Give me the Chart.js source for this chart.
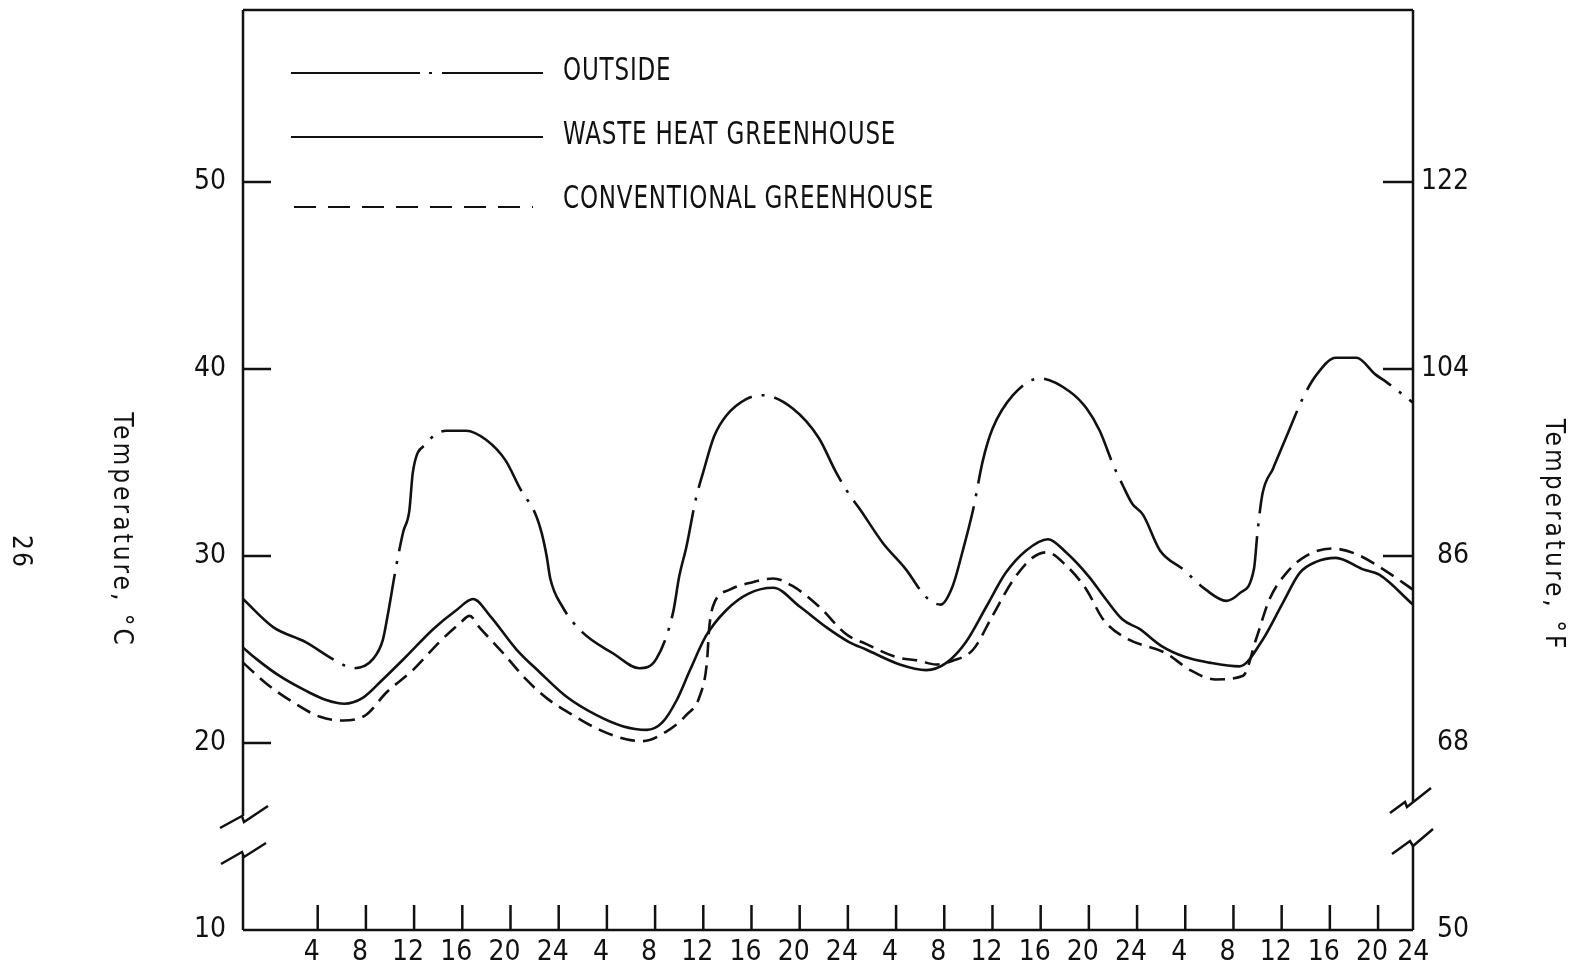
<!DOCTYPE html>
<html>
<head>
<meta charset="utf-8">
<script src="https://cdn.jsdelivr.net/npm/chart.js@4.4.1/dist/chart.umd.min.js"></script>
<style>
  html, body { margin: 0; padding: 0; background: #fff; }
  #wrap { width: 1576px; height: 971px; }
</style>
</head>
<body>
<div id="wrap"><canvas id="tempChart" width="1576" height="971"></canvas></div>
<script>
// hours from start of the 4-day run, temperatures in deg C
const outsideHours = [-2.2, 0.3, 3.0, 5.5, 7.0, 8.6, 9.4, 9.8, 10.5, 11.1, 11.6, 11.9, 13.0, 14.7, 16.3, 18.0, 19.6, 20.8, 22.1, 22.6, 23.0, 23.3, 24.3, 26.0, 28.5, 30.7, 32.1, 33.5, 34.0, 34.6, 35.4, 36.0, 36.9, 37.9, 39.6, 40.9, 43.4, 45.6, 47.0, 48.1, 49.0, 50.9, 52.8, 54.5, 55.7, 56.7, 57.5, 58.4, 59.2, 60.0, 61.7, 63.9, 66.4, 67.8, 68.9, 70.0, 70.8, 71.6, 72.5, 73.9, 75.8, 77.7, 79.4, 80.5, 81.7, 82.0, 82.4, 83.3, 84.6, 85.8, 86.9, 88.5, 90.2, 91.8, 92.7, 94.9];
const outsideTemp = [27.7, 26.2, 25.4, 24.4, 24.0, 24.5, 25.5, 26.8, 29.4, 31.3, 32.4, 34.5, 36.0, 36.7, 36.7, 36.2, 35.1, 33.6, 32.2, 31.2, 30.0, 28.8, 27.3, 25.9, 24.8, 24.0, 24.5, 27.0, 28.9, 30.5, 33.1, 34.5, 36.4, 37.5, 38.4, 38.6, 37.9, 36.3, 34.5, 33.3, 32.5, 30.7, 29.3, 27.8, 27.4, 28.4, 30.2, 32.5, 35.1, 36.8, 38.6, 39.5, 38.8, 37.9, 36.7, 34.9, 33.8, 32.8, 32.2, 30.3, 29.3, 28.2, 27.6, 28.0, 29.3, 31.3, 33.3, 34.7, 36.7, 38.5, 39.7, 40.6, 40.6, 39.7, 39.3, 38.2];

const wasteHours = [-2.2, -1.1, 0.8, 3.0, 4.7, 6.2, 7.7, 9.4, 11.3, 13.6, 15.5, 16.9, 18.3, 20.5, 22.4, 24.6, 27.1, 29.3, 31.3, 32.6, 33.8, 34.9, 36.2, 37.9, 39.8, 41.8, 44.0, 46.2, 48.1, 49.5, 52.3, 54.5, 56.2, 57.8, 59.5, 61.1, 62.8, 64.6, 66.1, 68.0, 69.4, 70.8, 72.2, 74.0, 76.0, 78.0, 80.5, 82.4, 84.1, 85.5, 86.9, 88.5, 90.7, 92.1, 94.9];
const wasteTemp = [25.1, 24.5, 23.6, 22.8, 22.3, 22.1, 22.4, 23.4, 24.6, 26.1, 27.1, 27.7, 26.8, 25.0, 23.8, 22.5, 21.5, 20.9, 20.7, 21.1, 22.3, 23.9, 25.7, 27.1, 28.0, 28.3, 27.3, 26.2, 25.4, 25.0, 24.2, 23.9, 24.3, 25.4, 27.3, 29.1, 30.3, 30.9, 30.2, 28.9, 27.7, 26.6, 26.1, 25.2, 24.6, 24.3, 24.1, 25.5, 27.5, 29.1, 29.7, 29.9, 29.3, 29.0, 27.4];

const convHours = [-2.2, -0.3, 1.9, 4.2, 6.1, 8.0, 9.7, 11.9, 14.1, 15.8, 16.6, 17.4, 19.4, 21.3, 23.0, 24.9, 27.4, 29.6, 31.0, 32.9, 34.6, 35.7, 36.3, 36.5, 36.8, 38.2, 40.1, 41.8, 43.4, 45.6, 47.9, 49.5, 52.0, 53.9, 55.3, 56.7, 58.4, 60.0, 61.7, 63.3, 64.5, 66.1, 67.8, 69.2, 71.1, 74.4, 76.4, 78.5, 80.8, 81.9, 83.0, 84.4, 86.0, 88.2, 90.2, 92.4, 94.9];
const convTemp = [24.3, 23.2, 22.2, 21.4, 21.2, 21.5, 22.7, 23.9, 25.4, 26.4, 26.8, 26.2, 24.8, 23.4, 22.4, 21.6, 20.7, 20.2, 20.1, 20.6, 21.5, 22.5, 24.3, 26.2, 27.3, 28.2, 28.6, 28.8, 28.4, 27.3, 25.8, 25.3, 24.6, 24.4, 24.2, 24.4, 25.0, 26.8, 28.7, 29.9, 30.2, 29.5, 28.2, 26.6, 25.6, 24.8, 23.9, 23.4, 23.6, 25.6, 27.7, 29.1, 30.0, 30.4, 30.1, 29.3, 28.2];

const hourTicks = [4, 8, 12, 16, 20, 24, 28, 32, 36, 40, 44, 48, 52, 56, 60, 64, 68, 72, 76, 80, 84, 88, 92];
const celsiusTicks = [10, 20, 30, 40, 50];
const fahrenheitTicks = [50, 68, 86, 104, 122];
const seriesNames = ["OUTSIDE", "WASTE HEAT GREENHOUSE", "CONVENTIONAL GREENHOUSE"];

const X_MIN = -2.2, X_MAX = 94.9;
const C_MIN = 10, C_MAX = 59.2;
const toF = (c) => c * 1.8 + 32;

const INK = "#111";
const FONT = '"Liberation Sans Narrow", "DejaVu Sans Condensed", "Liberation Sans", sans-serif';

function pts(xs, ys) {
  return xs.map((x, i) => ({ x: x, y: ys[i] }));
}

// drop the half-label padding chart.js adds so the frame hugs the canvas top
function noEdgePad(s) {
  s.paddingTop = 0;
  s.paddingBottom = 0;
  s.paddingLeft = 0;
  s.paddingRight = 0;
}

// frame, inside ticks, axis breaks, legend and rotated titles
const decorations = {
  id: "decorations",
  afterDraw(chart) {
    const ctx = chart.ctx;
    const a = chart.chartArea;
    const xs = chart.scales.x, yl = chart.scales.y, yr = chart.scales.y2;
    ctx.save();
    ctx.strokeStyle = INK;
    ctx.fillStyle = INK;
    ctx.lineWidth = 2.5;
    ctx.lineCap = "butt";

    // frame with gaps for the breaks
    ctx.beginPath();
    ctx.moveTo(a.left, a.top); ctx.lineTo(a.right, a.top);
    ctx.moveTo(a.left, a.bottom); ctx.lineTo(a.right, a.bottom);
    ctx.moveTo(a.left, a.top); ctx.lineTo(a.left, a.bottom - 114);
    ctx.moveTo(a.left, a.bottom - 75); ctx.lineTo(a.left, a.bottom);
    ctx.moveTo(a.right, a.top); ctx.lineTo(a.right, a.bottom - 128);
    ctx.moveTo(a.right, a.bottom - 84); ctx.lineTo(a.right, a.bottom);
    ctx.stroke();

    // break marks
    const zig = (x0, y0, pts) => {
      ctx.beginPath();
      pts.forEach((p, i) => {
        if (i === 0) ctx.moveTo(x0 + p[0], y0 + p[1]);
        else ctx.lineTo(x0 + p[0], y0 + p[1]);
      });
      ctx.stroke();
    };
    zig(a.left, a.bottom, [[-23, -102], [-1, -114], [1, -108], [25, -124]]);
    zig(a.left, a.bottom, [[-22, -66], [-1, -78], [1, -73], [23, -87]]);
    zig(a.right, a.bottom, [[-23, -117], [-8, -128], [-6, -123], [18, -142]]);
    zig(a.right, a.bottom, [[-21, -76], [-3, -89], [0, -84], [20, -101]]);

    // tick marks drawn inwards
    ctx.beginPath();
    celsiusTicks.slice(1).forEach((v) => {
      const y = yl.getPixelForValue(v);
      ctx.moveTo(a.left, y); ctx.lineTo(a.left + 28, y);
    });
    [86, 104, 122].forEach((v) => {
      const y = yr.getPixelForValue(v);
      ctx.moveTo(a.right - 30, y); ctx.lineTo(a.right, y);
    });
    hourTicks.forEach((v) => {
      const x = xs.getPixelForValue(v);
      ctx.moveTo(x, a.bottom); ctx.lineTo(x, a.bottom - 25);
    });
    ctx.stroke();

    // legend
    const lx0 = a.left + 48, lx1 = a.left + 300;
    ctx.lineWidth = 2.2;
    ctx.beginPath();
    ctx.moveTo(lx0, 73); ctx.lineTo(a.left + 177, 73);
    ctx.moveTo(a.left + 186, 73); ctx.lineTo(a.left + 189, 73);
    ctx.moveTo(a.left + 199, 73); ctx.lineTo(lx1, 73);
    ctx.moveTo(lx0, 137); ctx.lineTo(lx1, 137);
    ctx.stroke();
    ctx.setLineDash([22, 12]);
    ctx.beginPath();
    ctx.moveTo(a.left + 51, 207); ctx.lineTo(a.left + 290, 207);
    ctx.stroke();
    ctx.setLineDash([]);

    const narrowText = (txt, x, y) => {
      ctx.save();
      ctx.translate(x, y);
      ctx.scale(0.8, 1);
      ctx.font = "32px " + FONT;
      ctx.letterSpacing = "1px";
      ctx.textAlign = "left";
      ctx.textBaseline = "middle";
      ctx.fillText(txt, 0, 0);
      ctx.restore();
    };
    narrowText(seriesNames[0], a.left + 320, 72);
    narrowText(seriesNames[1], a.left + 320, 136);
    narrowText(seriesNames[2], a.left + 320, 200);

    // rotated titles (read top to bottom)
    const vText = (txt, x, y, size, spacing) => {
      ctx.save();
      ctx.translate(x, y);
      ctx.rotate(Math.PI / 2);
      ctx.font = size + "px " + FONT;
      ctx.letterSpacing = spacing;
      ctx.textAlign = "center";
      ctx.textBaseline = "middle";
      ctx.fillText(txt, 0, 0);
      ctx.restore();
    };
    vText("Temperature, \u00B0C", 121, 530, 26, "3px");
    vText("Temperature, \u00B0F", 1553, 535, 26, "3px");
    vText("26", 20, 552, 26, "2px");
    ctx.restore();
  }
};

new Chart(document.getElementById("tempChart").getContext("2d"), {
  type: "line",
  data: {
    datasets: [
      {
        label: seriesNames[0],
        data: pts(outsideHours, outsideTemp),
        borderColor: INK,
        borderWidth: 2.6,
        borderDash: [110, 10, 3, 10],
        pointRadius: 0,
        cubicInterpolationMode: "monotone",
        yAxisID: "y",
      },
      {
        label: seriesNames[1],
        data: pts(wasteHours, wasteTemp),
        borderColor: INK,
        borderWidth: 2.6,
        pointRadius: 0,
        cubicInterpolationMode: "monotone",
        yAxisID: "y",
      },
      {
        label: seriesNames[2],
        data: pts(convHours, convTemp),
        borderColor: INK,
        borderWidth: 2.6,
        borderDash: [15, 8],
        pointRadius: 0,
        cubicInterpolationMode: "monotone",
        yAxisID: "y",
      },
    ],
  },
  options: {
    responsive: false,
    animation: false,
    devicePixelRatio: 1,
    layout: { padding: { top: 10, right: 107, left: 0, bottom: 0 } },
    plugins: { legend: { display: false }, tooltip: { enabled: false } },
    scales: {
      x: {
        type: "linear",
        min: X_MIN,
        max: X_MAX,
        afterBuildTicks: (s) => {
          s.ticks = hourTicks.map((v) => ({ value: v })).concat([{ value: X_MAX }]);
        },
        afterFit: (s) => { s.height = 41; noEdgePad(s); },
        grid: { display: false, drawTicks: false },
        border: { display: false },
        ticks: {
          autoSkip: false,
          maxRotation: 0,
          padding: 6,
          labelOffset: -6,
          color: INK,
          font: { family: FONT, size: 28 },
          callback: (v) => (v >= X_MAX ? "\u200224" : String(v % 24 === 0 ? 24 : v % 24)),
        },
      },
      y: {
        position: "left",
        min: C_MIN,
        max: C_MAX,
        afterBuildTicks: (s) => { s.ticks = celsiusTicks.map((v) => ({ value: v })); },
        afterFit: (s) => { s.width = 243; noEdgePad(s); },
        grid: { display: false, drawTicks: false },
        border: { display: false },
        ticks: { padding: 17, color: INK, font: { family: FONT, size: 28 } },
      },
      y2: {
        position: "right",
        min: toF(C_MIN),
        max: toF(C_MAX),
        afterBuildTicks: (s) => { s.ticks = fahrenheitTicks.map((v) => ({ value: v })); },
        afterFit: (s) => { s.width = 56; noEdgePad(s); },
        grid: { display: false, drawTicks: false },
        border: { display: false },
        ticks: { padding: 12, crossAlign: "far", color: INK, font: { family: FONT, size: 28 } },
      },
    },
  },
  plugins: [decorations],
});
</script>
</body>
</html>
